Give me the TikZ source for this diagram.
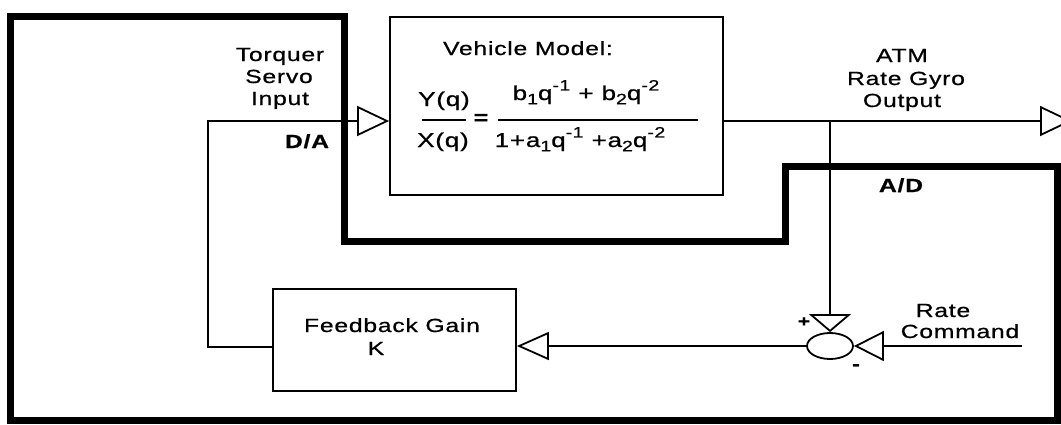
\documentclass[tikz,border=0pt]{standalone}
\usepackage{fontspec}
\setmainfont{Liberation Sans}[FakeStretch=1.3,LetterSpace=4,FakeBold=0.8]
\usetikzlibrary{arrows.meta,shapes.geometric}
\newcommand{\myLo}[1]{\raisebox{-0.4ex}{\fontsize{15}{15}\selectfont #1}}
\newcommand{\myHi}[1]{\raisebox{0.9ex}{\fontsize{15}{15}\selectfont #1}}
\begin{document}
\begin{tikzpicture}[x=1pt,y=-1pt,
  wire/.style={line width=1.8pt},
  frame/.style={line width=7pt, line join=miter},
  blk/.style={draw, line width=1.8pt, rectangle, inner sep=0pt},
  lbl/.style={font=\fontsize{19}{21}\selectfont, inner sep=0pt, anchor=base},
  eqt/.style={font=\fontsize{20}{22}\selectfont, inner sep=0pt, anchor=base},
  bigtip/.style={-{Triangle[open,length=32pt,width=30pt]}}]
\useasboundingbox (0,0) rectangle (1061,424);
% blocks
\node[blk, minimum width=333pt, minimum height=178pt] (vm) at (556.5,106) {};
\node[blk, minimum width=243pt, minimum height=102pt] (fb) at (394.5,340) {};
\node[draw, ellipse, line width=1.8pt, minimum width=46pt, minimum height=26pt, inner sep=0pt] (sum) at (830,346) {};
% coordinates
\coordinate (da) at (208,121);
\coordinate (db) at (208,347);
\coordinate (br) at (830,121);
\coordinate (out) at (1072,121);
\coordinate (rc) at (1022,346);
% connectors
\draw[wire, bigtip] (fb.west |- db) -- (db) -- (da) -- (da -| vm.west);
\draw[wire, bigtip] (da -| vm.east) -- (out);
\draw[wire, -{Triangle[open,length=18pt,width=42pt]}] (br) -- (sum.north);
\draw[wire, -{Triangle[open,length=30pt,width=30pt]}] (rc) -- (sum.east);
\draw[wire, -{Triangle[open,length=32pt,width=28pt]}] (sum.west) -- (sum.west -| fb.east);
% thick boundary
\draw[frame] (10.5,16.5) -- (344.5,16.5) -- (344.5,241) -- (785,241) -- (785,166.5)
  -- (1057.5,166.5) -- (1057.5,420.5) -- (10.5,420.5) -- cycle;
% labels
\node[lbl] (t1) at (280,61) {Torquer};
\node[lbl] (t2) at (279,83) {Servo};
\node[lbl] (t3) at (280,105) {Input};
\node[lbl, font=\fontsize{19}{21}\selectfont\bfseries] (dac) at (307,148) {D/A};
\node[lbl, font=\fontsize{19}{21}\selectfont\bfseries] (adc) at (901,192) {A/D};
\node[lbl] (g1) at (902,62) {ATM};
\node[lbl] (g2) at (906,85) {Rate Gyro};
\node[lbl] (g3) at (902,107) {Output};
\node[lbl] (vmt) at (528,55) {Vehicle Model:};
\node[lbl] (fbt) at (392,332) {Feedback Gain};
\node[lbl] (fbk) at (376,355) {K};
\node[lbl] (rc1) at (943,317) {Rate};
\node[lbl] (rc2) at (960,338) {Command};
\node[inner sep=0pt, font=\fontsize{16}{16}\selectfont\bfseries] (plus) at (804,322) {+};
\node[inner sep=0pt, font=\fontsize{18}{18}\selectfont\bfseries] (minus) at (856,367) {-};
% equation
\node[eqt] (yq) at (444,106) {Y(q)};
\node[eqt] (xq) at (443,147) {X(q)};
\draw[wire] (422,120) -- (466,120);
\node[inner sep=0pt, font=\fontsize{19}{19}\selectfont\bfseries] (eq) at (481,119) {=};
\draw[wire] (498,120) -- (698,120);
\node[eqt] (num) at (586,100) {b\myLo{1}q\myHi{-1} + b\myLo{2}q\myHi{-2}};
\node[eqt] (den) at (580,147) {1+a\myLo{1}q\myHi{-1} +a\myLo{2}q\myHi{-2}};
\end{tikzpicture}
\end{document}
